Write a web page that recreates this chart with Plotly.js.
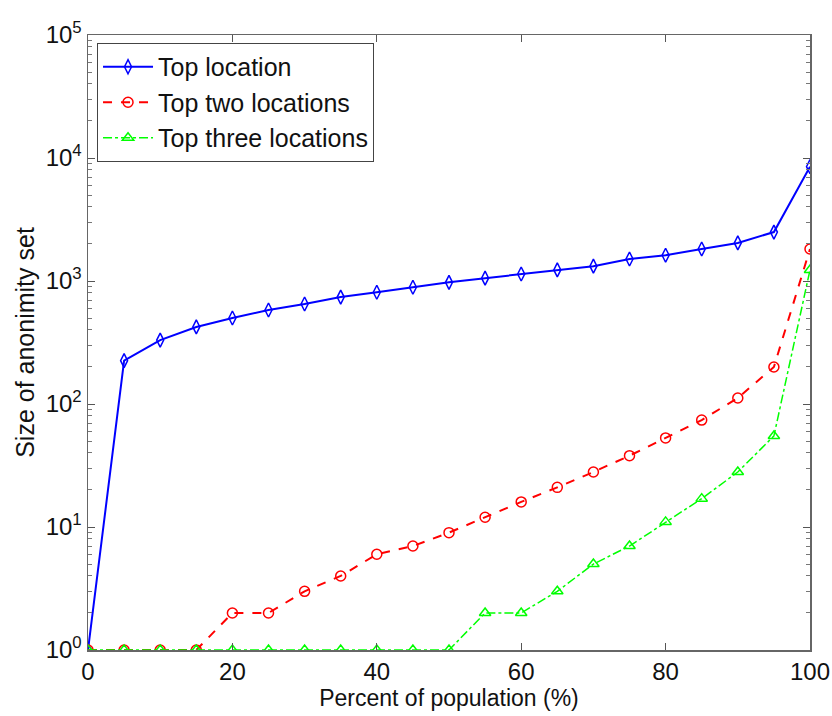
<!DOCTYPE html>
<html>
<head>
<meta charset="utf-8">
<script src="https://cdn.plot.ly/plotly-3.0.1.min.js"></script>
<style>html,body{margin:0;padding:0;background:#fff;}#chart{width:832px;height:716px;}</style>
</head>
<body>
<div id="chart"></div>
<script>
var percent = [0,5,10,15,20,25,30,35,40,45,50,55,60,65,70,75,80,85,90,95,100];
var topLocation = [1,225,331,423,500,581,650,740,810,890,975,1055,1140,1230,1320,1510,1620,1820,2040,2500,8500];
var topTwo = [1,1,1,1,2,2,3,4,6,7,9,12,16,21,28,38,53,74,112,200,1820];
var topThree = [1,1,1,1,1,1,1,1,1,1,1,2,2,3,5,7,11,17,28,55,1230];
var yTickVals = [1,10,100,1000,10000,100000];
var yTickText = ['10<sup>0</sup>','10<sup>1</sup>','10<sup>2</sup>','10<sup>3</sup>','10<sup>4</sup>','10<sup>5</sup>'];
var xTickVals = [0,20,40,60,80,100];

var traces = [
  {x: percent, y: topLocation, name: 'Top location', mode: 'lines+markers', type: 'scatter',
   line: {color: '#0000ff', width: 2, dash: 'solid'},
   marker: {symbol: 'diamond-tall-open', size: 10, color: '#0000ff', line: {width: 1.5, color: '#0000ff'}}},
  {x: percent, y: topTwo, name: 'Top two locations', mode: 'lines+markers', type: 'scatter',
   line: {color: '#ff0000', width: 2, dash: 'dash'},
   marker: {symbol: 'circle-open', size: 10, color: '#ff0000', line: {width: 1.5, color: '#ff0000'}}},
  {x: percent, y: topThree, name: 'Top three locations', mode: 'lines+markers', type: 'scatter',
   line: {color: '#00ff00', width: 1.5, dash: 'dashdot'},
   marker: {symbol: 'triangle-up-open', size: 10, color: '#00ff00', line: {width: 1.5, color: '#00ff00'}}}
];

var layout = {
  width: 832, height: 716,
  margin: {l: 88, r: 22, t: 35, b: 66},
  paper_bgcolor: '#fff', plot_bgcolor: '#fff',
  font: {family: 'Liberation Sans, Arial, sans-serif', size: 24, color: '#111'},
  showlegend: true,
  legend: {x: 0.0125, y: 0.987, xanchor: 'left', yanchor: 'top', bgcolor: '#fff', itemwidth: 50,
           bordercolor: '#444', borderwidth: 1, font: {size: 25, color: '#111'}, tracegroupgap: 0},
  xaxis: {range: [0, 100], tickvals: xTickVals, ticks: 'inside', ticklen: 7, tickcolor: '#555',
          showline: true, linecolor: '#666', linewidth: 1.5, mirror: 'ticks', showgrid: false, zeroline: false,
          tickfont: {size: 24}, title: {text: 'Percent of population (%)', font: {size: 23}, standoff: 2}},
  yaxis: {type: 'log', range: [0, 5], tickvals: yTickVals, ticktext: yTickText, ticks: 'inside', ticklen: 7,
          tickcolor: '#555', showline: true, linecolor: '#666', linewidth: 1.5, mirror: 'ticks',
          showgrid: false, zeroline: false, tickfont: {size: 24},
          minor: {ticks: 'inside', ticklen: 4, tickcolor: '#777', dtick: 'D1', showgrid: false},
          title: {text: 'Size of anonimity set', font: {size: 25}, standoff: 4}}
};

Plotly.newPlot('chart', traces, layout, {displayModeBar: false, staticPlot: true});
</script>
</body>
</html>
